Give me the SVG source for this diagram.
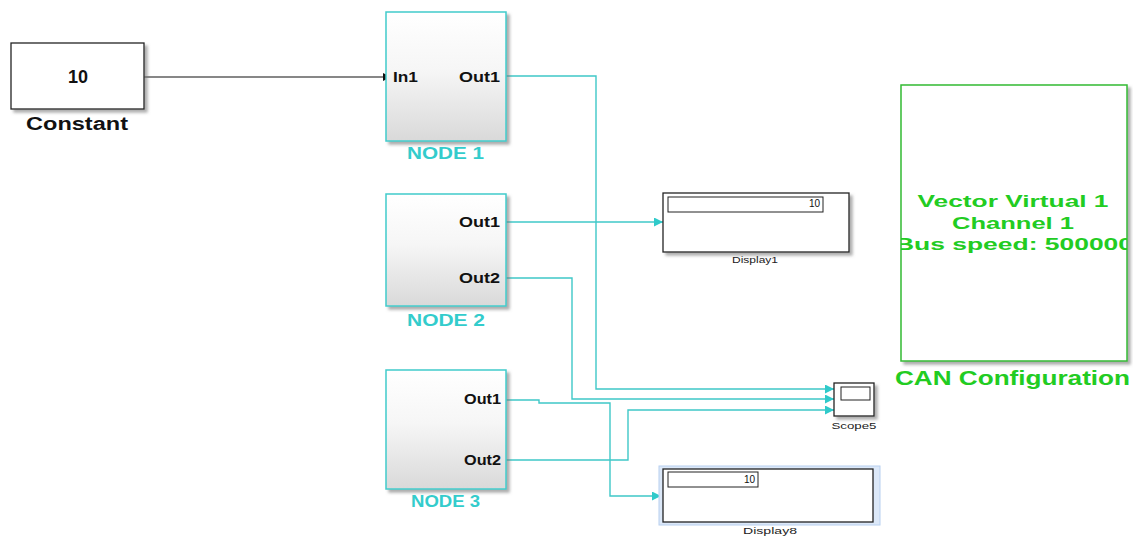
<svg xmlns="http://www.w3.org/2000/svg" width="1133" height="536" viewBox="0 0 1133 536">
<style>
.blk{fill:#fff;stroke:#222;stroke-width:1.3}
.node{fill:url(#ng);stroke:#40cccc;stroke-width:1.5}
.port{font-family:"Liberation Sans",Arial,sans-serif;font-weight:bold;font-size:15px;fill:#111}
.nlab{font-family:"Liberation Sans",Arial,sans-serif;font-weight:bold;font-size:16px;fill:#33cccc}
.small{font-family:"Liberation Sans",Arial,sans-serif;font-size:9px;fill:#222}
.val{font-family:"Liberation Sans",Arial,sans-serif;font-size:10px;fill:#111}
.green{font-family:"Liberation Sans",Arial,sans-serif;font-weight:bold;font-size:17px;fill:#22cc22}
.wire{fill:none;stroke:#3fc8c8;stroke-width:1.4}
.bwire{fill:none;stroke:#111;stroke-width:1.1}
</style>
<defs>
<linearGradient id="ng" x1="0" y1="0" x2="0" y2="1">
<stop offset="0" stop-color="#ffffff"/>
<stop offset="0.45" stop-color="#f6f6f6"/>
<stop offset="1" stop-color="#d9d9d9"/>
</linearGradient>
<filter id="sh" x="-10%" y="-10%" width="130%" height="130%">
<feDropShadow dx="3" dy="3" stdDeviation="1.5" flood-color="#777" flood-opacity="0.6"/>
</filter>
<marker id="ac" viewBox="0 0 10 10" refX="10" refY="5" markerWidth="11" markerHeight="9" markerUnits="userSpaceOnUse" orient="auto">
<path d="M0,0 L10,5 L0,10 z" fill="#2fcaca"/>
</marker>
<marker id="ab" viewBox="0 0 10 10" refX="10" refY="5" markerWidth="10" markerHeight="8" markerUnits="userSpaceOnUse" orient="auto">
<path d="M0,0 L10,5 L0,10 z" fill="#111"/>
</marker>
<clipPath id="canclip"><rect x="901" y="85" width="226" height="276"/></clipPath>
</defs>
<rect width="1133" height="536" fill="#fff"/>

<g id="connectors">
<path class="bwire" d="M144,77 H391" marker-end="url(#ab)"/>
<path class="wire" d="M506,76 H596 V389 H834" marker-end="url(#ac)"/>
<path class="wire" d="M506,222 H663" marker-end="url(#ac)"/>
<path class="wire" d="M506,278 H572 V399 H834" marker-end="url(#ac)"/>
<path class="wire" d="M506,400 H539 V403 H610 V496 H661" marker-end="url(#ac)"/>
<path class="wire" d="M506,460 H628 V410 H834" marker-end="url(#ac)"/>
</g>

<g id="constant">
<rect class="blk" x="11" y="43" width="133" height="66" filter="url(#sh)"/>
<text x="78" y="83" text-anchor="middle" font-family="Liberation Sans, Arial, sans-serif" font-weight="bold" font-size="18" fill="#111">10</text>
<text x="26" y="130" font-family="Liberation Sans, Arial, sans-serif" font-weight="bold" font-size="18" fill="#111" textLength="102" lengthAdjust="spacingAndGlyphs">Constant</text>
</g>

<g id="node1">
<rect class="node" x="386" y="12" width="120" height="129" filter="url(#sh)"/>
<text class="port" x="393" y="82" textLength="25" lengthAdjust="spacingAndGlyphs">In1</text>
<text class="port" x="459" y="82" textLength="41" lengthAdjust="spacingAndGlyphs">Out1</text>
<text class="nlab" x="407" y="159" textLength="77" lengthAdjust="spacingAndGlyphs">NODE 1</text>
</g>

<g id="node2">
<rect class="node" x="386" y="194" width="120" height="112" filter="url(#sh)"/>
<text class="port" x="459" y="227" textLength="41" lengthAdjust="spacingAndGlyphs">Out1</text>
<text class="port" x="459" y="283" textLength="41" lengthAdjust="spacingAndGlyphs">Out2</text>
<text class="nlab" x="407" y="326" textLength="78" lengthAdjust="spacingAndGlyphs">NODE 2</text>
</g>

<g id="node3">
<rect class="node" x="386" y="370" width="120" height="119" filter="url(#sh)"/>
<text class="port" x="464" y="404" font-size="14" textLength="37" lengthAdjust="spacingAndGlyphs">Out1</text>
<text class="port" x="464" y="465" font-size="14" textLength="37" lengthAdjust="spacingAndGlyphs">Out2</text>
<text class="nlab" x="411" y="507" font-size="15" textLength="69" lengthAdjust="spacingAndGlyphs">NODE 3</text>
</g>

<g id="display1">
<rect class="blk" x="663" y="193" width="186" height="59" filter="url(#sh)"/>
<rect x="668" y="197" width="155" height="15" fill="#fff" stroke="#222" stroke-width="1"/>
<text class="val" x="820" y="207" text-anchor="end">10</text>
<text class="small" x="755" y="263" text-anchor="middle" textLength="46" lengthAdjust="spacingAndGlyphs">Display1</text>
</g>

<g id="scope5">
<rect class="blk" x="834" y="383" width="40" height="33" filter="url(#sh)"/>
<rect x="841" y="387" width="29" height="13" fill="#fff" stroke="#222" stroke-width="1"/>
<text class="small" x="854" y="429" text-anchor="middle" textLength="45" lengthAdjust="spacingAndGlyphs">Scope5</text>
</g>

<g id="display8">
<rect x="659" y="466" width="221" height="59" fill="#dce8f8" stroke="#b8d0f0" stroke-width="1"/>
<rect class="blk" x="663" y="469" width="210" height="53"/>
<rect x="668" y="472" width="90" height="15" fill="#fff" stroke="#222" stroke-width="1"/>
<text class="val" x="755" y="483" text-anchor="end">10</text>
<text class="small" x="770" y="534" text-anchor="middle" textLength="54" lengthAdjust="spacingAndGlyphs">Display8</text>
</g>

<g id="can_config">
<rect x="901" y="85" width="226" height="276" fill="#fff" stroke="#33bb33" stroke-width="1.5" filter="url(#sh)"/>
<g clip-path="url(#canclip)">
<text class="green" x="1013" y="207" text-anchor="middle" textLength="191" lengthAdjust="spacingAndGlyphs">Vector Virtual 1</text>
<text class="green" x="1013" y="229" text-anchor="middle" textLength="122" lengthAdjust="spacingAndGlyphs">Channel 1</text>
<text class="green" x="1014" y="250" text-anchor="middle" textLength="238" lengthAdjust="spacingAndGlyphs">Bus speed: 500000</text>
</g>
<text x="895" y="385" font-family="Liberation Sans, Arial, sans-serif" font-weight="bold" font-size="20" fill="#22cc22" textLength="235" lengthAdjust="spacingAndGlyphs">CAN Configuration</text>
</g>
</svg>
